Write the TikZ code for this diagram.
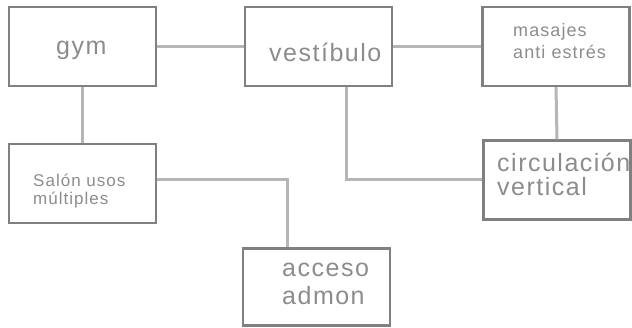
\documentclass[tikz,border=0pt]{standalone}
\usepackage{fontspec}
\setmainfont[LetterSpace=6]{Liberation Sans}
\definecolor{boxgray}{RGB}{128,128,128}
\definecolor{linkgray}{RGB}{182,182,182}
\definecolor{txtgray}{RGB}{140,140,140}
\tikzset{
  room/.style={draw=boxgray, line width=2.2pt, minimum width=147pt, minimum height=79pt, inner sep=0pt},
  link/.style={draw=linkgray, line width=3pt},
  bigtxt/.style={text=txtgray, font=\fontsize{25}{24}\selectfont, inner sep=0pt, anchor=base west, align=left},
  smalltxt/.style={text=txtgray, font=\fontsize{17}{18.5}\selectfont, inner sep=0pt, anchor=base west, align=left}
}
\begin{document}
\begin{tikzpicture}[x=1pt,y=-1pt]
\useasboundingbox (0,0) rectangle (632,328);
% rooms
\node[room] (gym) at (82.5,46.5) {};
\node[room] (vest) at (318.5,46.5) {};
\node[room] (mas) at (556,46.5) {};
\node[room] (circ) at (557,180) {};
\node[room] (sal) at (82.5,183.5) {};
\node[room, minimum height=77pt] (acc) at (316.5,287) {};
% links
\draw[link] (gym.east) -- (vest.west);
\draw[link] (vest.east) -- (mas.west);
\draw[link] (gym.south) -- (sal.north);
\draw[link] (mas.south) -- (circ.north);
\draw[link] ([xshift=28pt]vest.south) |- (circ.west);
\draw[link] ([yshift=3.5pt]sal.east) -| ([xshift=-29.5pt]acc.north);
% labels (base = last line)
\node[bigtxt] (gym-t) at (56,55) {gym};
\node[bigtxt] (vest-t) at (269,62) {vestíbulo};
\node[smalltxt, font=\fontsize{18}{22}\selectfont] (mas-t) at (513,59) {masajes\\anti estrés};
\node[bigtxt] (circ-t) at (497,196) {circulación\\vertical};
\node[smalltxt] (sal-t) at (33,205) {Salón usos\\múltiples};
\node[bigtxt, font=\fontsize{25}{28}\selectfont] (acc-t) at (282,305) {acceso\\admon};
\end{tikzpicture}
\end{document}
